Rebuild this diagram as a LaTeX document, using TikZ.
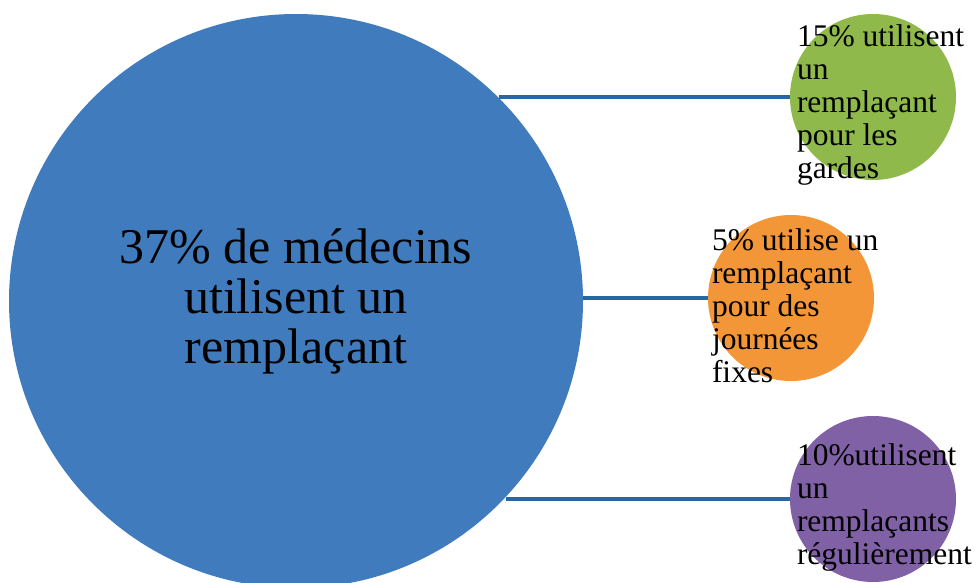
\documentclass[tikz,border=0pt]{standalone}
\usepackage{fontspec}
\setmainfont{Liberation Serif}
\usetikzlibrary{positioning}
\definecolor{mainblue}{RGB}{64,124,189}
\definecolor{lineblue}{RGB}{38,104,164}
\definecolor{gardegreen}{RGB}{143,185,74}
\definecolor{fixeorange}{RGB}{243,150,56}
\definecolor{regpurple}{RGB}{128,97,165}
\tikzset{
  bigdisc/.style={circle, inner sep=0pt, minimum size=574pt, fill=mainblue,
    align=center, font=\fontsize{50}{50}\selectfont},
  smalldisc/.style={circle, inner sep=0pt, minimum size=166pt},
  smalltext/.style={inner sep=0pt, align=left, yshift=-8pt,
    font=\fontsize{31.5}{33}\selectfont},
  link/.style={draw=lineblue, line width=4.5pt}
}
\begin{document}
\begin{tikzpicture}[x=1pt, y=-1pt]
  \useasboundingbox (0,0) rectangle (980,582);
  % circles
  \node[bigdisc] (main) at (296,301) {37\% de médecins\\utilisent un\\remplaçant};
  \node[smalldisc, fill=gardegreen] (garde) at (873,97) {};
  \node[smalldisc, fill=fixeorange] (fixe) at (791,298) {};
  \node[smalldisc, fill=regpurple] (regulier) at (873,499) {};
  % links
  \draw[link] (main.45.3 |- garde.west) -- (garde.west);
  \draw[link] (main.east |- fixe.west) -- (fixe.west);
  \draw[link] (main.-43.9 |- regulier.west) -- (regulier.west);
  % texts
  \node[smalltext, right=7pt of garde.west] (gardetext)
    {15\% utilisent\\un\\remplaçant\\pour les\\gardes};
  \node[smalltext, right=4pt of fixe.west] (fixetext)
    {5\% utilise un\\remplaçant\\pour des\\journées\\fixes};
  \node[smalltext, right=7pt of regulier.west] (reguliertext)
    {10\%utilisent\\un\\remplaçants\\régulièrement};
\end{tikzpicture}
\end{document}
